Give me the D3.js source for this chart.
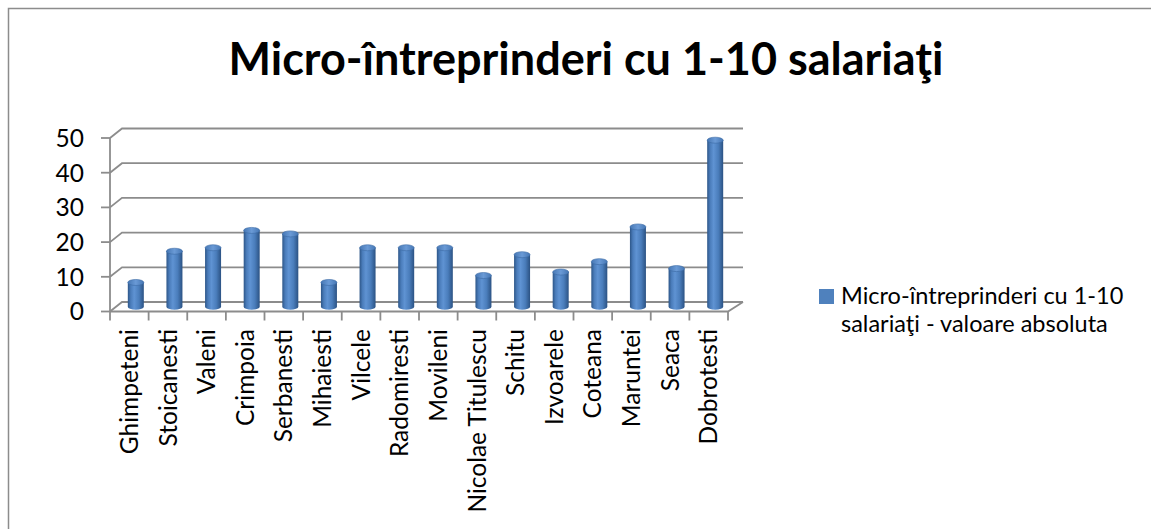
<!DOCTYPE html>
<html>
<head>
<meta charset="utf-8">
<script src="https://cdn.jsdelivr.net/npm/d3@7"></script>
<style>
  html, body { margin: 0; background: #fff; overflow: hidden; }
  svg { display: block; }
</style>
</head>
<body>
<main></main>
<script>
const width = 1151;
const height = 529;

const categories = ['Ghimpeteni', 'Stoicanesti', 'Valeni', 'Crimpoia', 'Serbanesti', 'Mihaiesti', 'Vilcele',
  'Radomiresti', 'Movileni', 'Nicolae Titulescu', 'Schitu', 'Izvoarele', 'Coteana', 'Maruntei', 'Seaca', 'Dobrotesti']
const values = [7, 16, 17, 22, 21, 7, 17, 17, 17, 9, 15, 10, 13, 23, 11, 48]
const yTicks = [0, 10, 20, 30, 40, 50]
const title = 'Micro-întreprinderi cu 1-10 salariaţi'
const legendLines = ['Micro-întreprinderi cu 1-10', 'salariaţi - valoare absoluta']

const font = 'Lato, "Open Sans", sans-serif'
const gridColor = '#8c8c8c'

// 3d depth offset of the back wall
const depthX = 12
const depthY = -9.5

const xScale = d3.scaleBand()
  .domain(categories)
  .range([110, 728])

const yScale = d3.scaleLinear()
  .domain([0, 50])
  .range([311.5, 138])

const svg = d3.select('main')
  .append('svg')
  .attr('width', width)
  .attr('height', height)

// Outer frame (only top and left edges are inside the picture)
svg.append('path')
  .attr('d', `M8.5,${height} L8.5,8.5 L${width},8.5`)
  .style('fill', 'none')
  .style('stroke', '#8c8c8c')
  .style('stroke-width', 1.5)

// Title
svg.append('text')
  .text(title)
  .attr('x', 586)
  .attr('y', 75)
  .style('text-anchor', 'middle')
  .style('font-family', font)
  .style('font-weight', 'bold')
  .style('font-size', '45px')
  .style('fill', '#000')

// Gradients for the cylinders
const defs = svg.append('defs')
const bodyGrad = defs.append('linearGradient')
  .attr('id', 'cyl-body')
  .attr('x1', '0%').attr('x2', '100%')
  .attr('y1', '0%').attr('y2', '0%')
bodyGrad.selectAll('stop')
  .data([['0%', '#2d5688'], ['18%', '#4a7cba'], ['40%', '#5f93d3'], ['70%', '#4a7dbb'], ['100%', '#2b5283']])
  .enter()
  .append('stop')
  .attr('offset', d => d[0])
  .attr('stop-color', d => d[1])

const topGrad = defs.append('linearGradient')
  .attr('id', 'cyl-top')
  .attr('x1', '0%').attr('x2', '100%')
topGrad.selectAll('stop')
  .data([['0%', '#4677b4'], ['50%', '#6a9ad6'], ['100%', '#4677b4']])
  .enter()
  .append('stop')
  .attr('offset', d => d[0])
  .attr('stop-color', d => d[1])

const grid = svg.append('g')
  .style('fill', 'none')
  .style('stroke', gridColor)
  .style('stroke-width', 1.8)

// Back wall gridlines with the diagonal from the front axis
grid.selectAll('.gridline')
  .data(yTicks)
  .enter()
  .append('path')
  .attr('class', 'gridline')
  .attr('d', d => {
    const y = yScale(d)
    return `M110,${y} L${110 + depthX},${y + depthY} L${728 + 15},${y + depthY}`
  })

// Floor front edge and right diagonal
grid.append('path')
  .attr('d', `M110,${yScale(0)} L728,${yScale(0)} L${728 + 15},${yScale(0) + depthY}`)

// Vertical axis line and ticks
grid.append('line')
  .attr('x1', 110).attr('x2', 110)
  .attr('y1', yScale(50)).attr('y2', yScale(0))

grid.selectAll('.ytick')
  .data(yTicks)
  .enter()
  .append('line')
  .attr('x1', 101).attr('x2', 110)
  .attr('y1', d => yScale(d)).attr('y2', d => yScale(d))

// Category ticks
const xEdges = categories.map(c => xScale(c)).concat([xScale.range()[1]])
grid.selectAll('.xtick')
  .data(xEdges)
  .enter()
  .append('line')
  .attr('x1', d => d).attr('x2', d => d)
  .attr('y1', yScale(0)).attr('y2', yScale(0) + 9)

// Y labels
svg.selectAll('.ylabel')
  .data(yTicks)
  .enter()
  .append('text')
  .text(d => d)
  .attr('x', 84)
  .attr('y', d => yScale(d))
  .attr('dy', '0.36em')
  .style('text-anchor', 'end')
  .style('font-family', font)
  .style('font-size', '24.5px')

// Category labels
svg.selectAll('.xlabel')
  .data(categories)
  .enter()
  .append('text')
  .text(d => d)
  .attr('transform', d => `translate(${xScale(d) + xScale.bandwidth() / 2}, 329) rotate(-90)`)
  .attr('dy', '0.35em')
  .style('text-anchor', 'end')
  .style('font-family', font)
  .style('font-size', '24.5px')

// Cylinders
const barW = 16
const ry = 3
const barOffX = depthX / 2 + 0.5
const barOffY = depthY / 2

const bars = svg.selectAll('.bar')
  .data(categories.map((c, i) => ({ name: c, value: values[i] })))
  .enter()
  .append('g')
  .attr('class', 'bar')
  .attr('transform', d => `translate(${xScale(d.name) + xScale.bandwidth() / 2 + barOffX}, ${barOffY})`)

bars.append('path')
  .attr('d', d => {
    const top = yScale(d.value)
    const bottom = yScale(0)
    return `M${-barW / 2},${top} L${-barW / 2},${bottom} A${barW / 2},${ry} 0 0 0 ${barW / 2},${bottom} L${barW / 2},${top} Z`
  })
  .style('fill', 'url(#cyl-body)')

bars.append('ellipse')
  .attr('cx', 0)
  .attr('cy', d => yScale(d.value))
  .attr('rx', barW / 2)
  .attr('ry', ry)
  .style('fill', 'url(#cyl-top)')
  .style('stroke', '#3a6aa5')
  .style('stroke-width', 0.6)

// Legend
svg.append('rect')
  .attr('x', 819)
  .attr('y', 289)
  .attr('width', 15)
  .attr('height', 15)
  .style('fill', '#4f81bd')

svg.selectAll('.legend-text')
  .data(legendLines)
  .enter()
  .append('text')
  .text(d => d)
  .attr('x', 841)
  .attr('y', (d, i) => 304 + i * 27.5)
  .style('font-family', font)
  .style('font-size', '23.5px')
</script>
</body>
</html>
